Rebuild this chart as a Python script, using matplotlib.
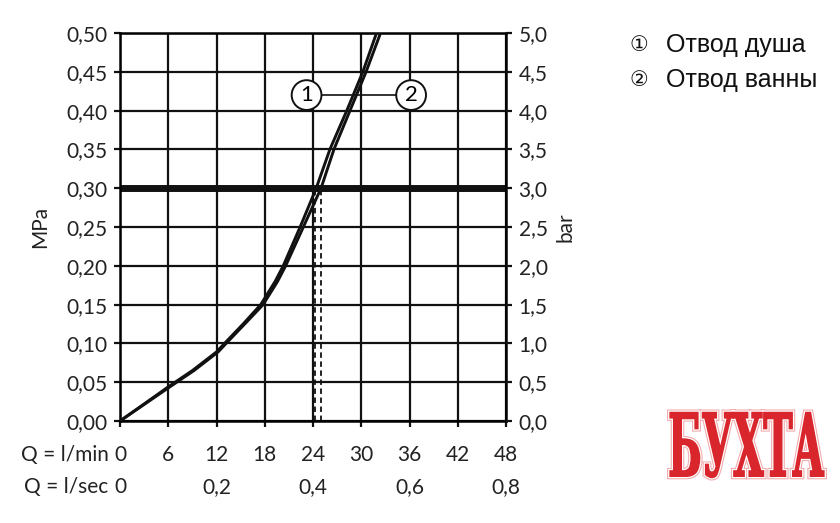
import numpy as np
import matplotlib.pyplot as plt
import matplotlib.patheffects as pe
from matplotlib.textpath import TextPath
from matplotlib.patches import PathPatch
from matplotlib.font_manager import FontProperties
from matplotlib.transforms import Affine2D

# --- Data ---
pressure_mpa = [0.00, 0.022, 0.044, 0.065, 0.089, 0.10, 0.126, 0.15, 0.18, 0.20,
                0.25, 0.30, 0.35, 0.40, 0.45, 0.50, 0.52]
flow_shower = [0.0, 3.0, 6.0, 9.0, 12.0, 13.0, 15.4, 17.5, 19.3, 20.3,
               22.4, 24.4, 26.1, 28.2, 30.2, 31.9, 32.6]
flow_bath = [0.0, 3.1, 6.2, 9.2, 12.2, 13.2, 15.6, 17.8, 19.6, 20.6,
             22.8, 25.0, 26.6, 28.6, 30.6, 32.4, 33.1]
ref_pressure = 0.30
ref_flows = [24.3, 25.0]

lmin_ticks = [0, 6, 12, 18, 24, 30, 36, 42, 48]
lsec_labels = ["0", "0,2", "0,4", "0,6", "0,8"]
lsec_pos = [0, 12, 24, 36, 48]
mpa_ticks = np.round(np.arange(0, 0.501, 0.05), 2)
legend_marks = ["\u2460", "\u2461"]
legend_labels = ["Отвод душа", "Отвод ванны"]

FONT = ["Lato", "DejaVu Sans"]
BLACK = "#111111"
TXT = "#222222"
FS = 15

fig = plt.figure(figsize=(8.4, 5.23), dpi=100)
ax = fig.add_axes([120 / 840, 1 - 421 / 523, 386 / 840, 388 / 523])

# grid
for v in lmin_ticks:
    ax.axvline(v, color=BLACK, lw=1.6, zorder=1)
for p in mpa_ticks:
    ax.axhline(p, color=BLACK, lw=1.6, zorder=1)
ax.axhline(ref_pressure, color=BLACK, lw=5, zorder=2)

# reference dashed lines
for q in ref_flows:
    ax.plot([q, q], [0, ref_pressure], color=BLACK, lw=1.3, ls=(0, (3, 2)), zorder=2)

# curves
for flows in (flow_shower, flow_bath):
    ax.plot(flows, pressure_mpa, color=BLACK, lw=2.1, zorder=3,
            solid_capstyle="butt", solid_joinstyle="round")

# circle callouts
ax.plot([23.2, 36.2], [0.42, 0.42], color=BLACK, lw=1.2, zorder=3)
for q, num in [(23.2, "1"), (36.2, "2")]:
    ax.text(q, 0.42, num, ha="center", va="center", fontsize=16, family=FONT,
            zorder=4, bbox=dict(boxstyle="circle,pad=0.22", fc="white",
                                ec=BLACK, lw=1.4))

ax.set_xlim(0, 48)
ax.set_ylim(0, 0.5)
for s in ax.spines.values():
    s.set_linewidth(1.8)

ax.set_xticks(lmin_ticks)
ax.set_xticklabels([])
ax.set_yticks(mpa_ticks)
ax.set_yticklabels([f"{p:.2f}".replace(".", ",") for p in mpa_ticks],
                   fontsize=FS, family=FONT)
ax.tick_params(axis="both", direction="out", length=4, width=1.6, colors=BLACK,
               labelcolor=TXT, pad=5)
ax.set_ylabel("MPa", fontsize=FS, family=FONT, labelpad=12, color=TXT)

ax2 = ax.twinx()
ax2.set_ylim(0, 5.0)
ax2.set_yticks(mpa_ticks * 10)
ax2.set_yticklabels([f"{p * 10:.1f}".replace(".", ",") for p in mpa_ticks],
                    fontsize=FS, family=FONT)
ax2.tick_params(axis="y", direction="out", length=4, width=1.6, colors=BLACK,
                labelcolor=TXT, pad=5)
ax2.set_ylabel("bar", fontsize=FS, family=FONT, labelpad=6, color=TXT)
for s in ax2.spines.values():
    s.set_visible(False)

# bottom two rows of labels
tr = ax.get_xaxis_transform()
for v in lmin_ticks:
    ax.text(v, -0.088, str(v), transform=tr, ha="center", va="center",
            fontsize=FS, family=FONT, color=TXT)
for v, lab in zip(lsec_pos, lsec_labels):
    ax.text(v, -0.17, lab, transform=tr, ha="center", va="center",
            fontsize=FS, family=FONT, color=TXT)
ax.text(-0.03, -0.088, "Q = l/min", transform=ax.transAxes, ha="right",
        va="center", fontsize=FS, family=FONT, color=TXT)
ax.text(-0.03, -0.17, "Q = l/sec", transform=ax.transAxes, ha="right",
        va="center", fontsize=FS, family=FONT, color=TXT)

# legend text
for i, (mk, lab) in enumerate(zip(legend_marks, legend_labels)):
    y = 1 - (45 + i * 35) / 523
    fig.text(639 / 840, y, mk, ha="center", va="center", fontsize=15,
             family=["DejaVu Sans"], color="#111111")
    fig.text(666 / 840, y, lab, ha="left", va="center", fontsize=18,
             family=["Liberation Sans", "DejaVu Sans"], color="#111111")

# watermark logo, stretched into its box
wax = fig.add_axes([667 / 840, 1 - 481 / 523, 160 / 840, 72 / 523])
wax.set_xlim(0, 1)
wax.set_ylim(0, 1)
wax.axis("off")
tp = TextPath((0, 0), "БУХТА", size=1,
              prop=FontProperties(family="DejaVu Serif", weight="bold"))
bb = tp.get_extents()
tp = Affine2D().translate(-bb.x0, -bb.y0).scale(0.96 / bb.width, 0.9 / bb.height) \
    .translate(0.02, 0.05).transform_path(tp)
patch = PathPatch(tp, fc="#d8262c", ec="#d8262c", lw=1.2)
patch.set_path_effects([pe.Stroke(linewidth=4.5, foreground="#f2a9a9"),
                        pe.Stroke(linewidth=3, foreground="white"), pe.Normal()])
wax.add_patch(patch)

fig.savefig("out.png", dpi=100)
